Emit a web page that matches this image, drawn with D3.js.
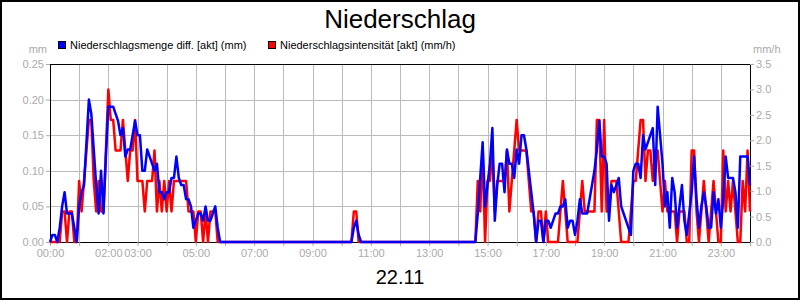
<!DOCTYPE html>
<html>
<head>
<meta charset="utf-8">
<script src="https://cdn.jsdelivr.net/npm/d3@7"></script>
<style>
  body { margin: 0; background: #fff; }
  svg { display: block; font-family: "Liberation Sans", Arial, sans-serif; }
</style>
</head>
<body>
<svg id="chart" width="800" height="300"></svg>
<script>
// time in minutes since 00:00
const mengeData = [
  [0,0],[5,0.01],[10,0.01],[15,0],[20,0.02],[25,0.05],[30,0.07],[35,0.04],[40,0.04],[45,0.04],[50,0.02],[55,0],
  [60,0.05],[65,0.07],[70,0.08],[75,0.14],[80,0.20],[85,0.18],[90,0.13],[95,0.08],[100,0.04],[105,0.10],[110,0.04],[115,0.12],
  [120,0.19],[125,0.19],[130,0.19],[135,0.18],[140,0.17],[145,0.15],[150,0.16],[155,0.12],[160,0.13],[165,0.13],[170,0.15],[175,0.17],
  [180,0.15],[185,0.15],[190,0.10],[195,0.10],[200,0.13],[205,0.12],[210,0.11],[215,0.10],[220,0.11],[225,0.07],[230,0.07],[235,0.06],
  [240,0.07],[245,0.07],[250,0.09],[255,0.09],[260,0.12],[265,0.09],[270,0.08],[275,0.08],[280,0.06],[285,0.06],[290,0.05],[295,0.02],
  [300,0.03],[305,0.04],[310,0.04],[315,0.03],[320,0.05],[325,0.03],[330,0.03],[335,0.04],[340,0.05],[345,0.02],[350,0],
  [620,0],[625,0.02],[630,0.03],[635,0.01],[640,0],
  [870,0],[875,0],[880,0.04],[885,0.09],[890,0.14],[895,0.05],[900,0.08],[905,0.11],[910,0.16],[915,0.03],[920,0.08],[925,0.11],
  [930,0.11],[935,0.07],[940,0.13],[945,0.11],[950,0.11],[955,0.09],[960,0.13],[965,0.11],[970,0.15],[975,0.15],[980,0.13],[985,0.10],
  [990,0.07],[995,0.04],[1000,0],[1005,0.03],[1010,0.03],[1015,0],[1020,0.03],[1025,0.03],[1030,0.02],[1035,0.03],[1040,0.04],[1045,0.04],
  [1050,0.05],[1055,0.05],[1060,0.06],[1065,0.02],[1070,0.03],[1075,0.03],[1080,0.01],[1085,0.03],[1090,0.06],[1095,0.04],[1100,0.04],[1105,0.04],
  [1110,0.06],[1115,0.08],[1120,0.10],[1125,0.13],[1130,0.17],[1135,0.12],[1140,0.12],[1145,0.11],[1150,0.03],[1155,0.08],[1160,0.07],[1165,0.08],
  [1170,0.09],[1175,0.05],[1180,0.04],[1185,0.03],[1190,0.02],[1195,0.01],[1200,0.10],[1205,0.11],[1210,0.11],[1215,0.09],[1220,0.15],[1225,0.13],
  [1230,0.14],[1235,0.15],[1240,0.16],[1245,0.08],[1250,0.19],[1255,0.15],[1260,0.11],[1265,0.05],[1270,0.07],[1275,0.02],[1280,0.09],[1285,0.07],
  [1290,0.02],[1295,0.05],[1300,0.08],[1305,0.03],[1310,0.01],[1315,0.04],[1320,0.07],[1325,0.12],[1330,0.06],[1335,0.02],[1340,0.05],[1345,0.07],
  [1350,0.05],[1355,0.02],[1360,0.02],[1365,0.07],[1370,0.04],[1375,0.06],[1380,0.02],[1385,0.06],[1390,0.12],[1395,0.09],[1400,0.09],[1405,0.09],
  [1410,0.07],[1415,0.02],[1420,0.12],[1425,0.12],[1430,0.12],[1435,0.12],[1440,0.08]
];

const intensData = [
  [0,0],[15,0],[20,0],[25,0.6],[30,0.6],[35,0],[40,0.6],[45,0.6],[50,0],[55,0],
  [60,1.2],[65,0.6],[70,1.2],[75,1.8],[80,2.4],[85,2.4],[90,1.2],[95,0.6],[100,1.2],[105,0.6],[110,0.6],[115,1.8],
  [120,3.0],[125,2.4],[130,2.4],[135,1.8],[140,1.8],[145,1.8],[150,2.4],[155,1.8],[160,1.2],[165,1.8],[170,1.8],[175,2.4],
  [180,1.2],[185,1.2],[190,1.2],[195,0.6],[200,1.2],[205,1.2],[210,1.2],[215,1.8],[220,0.6],[225,1.2],[230,0.6],[235,1.2],
  [240,0.6],[245,1.2],[250,0.6],[255,1.2],[260,1.2],[265,1.2],[270,1.2],[275,1.2],[280,1.2],[285,0.6],[290,0.6],[295,0.6],
  [300,0],[305,0.6],[310,0.6],[315,0],[320,0.6],[325,0],[330,0.6],[335,0.6],[340,0.6],[345,0],
  [620,0],[625,0.6],[630,0.6],[635,0],
  [875,0],[880,1.2],[885,0.6],[890,1.8],[895,0],[900,1.2],[905,1.2],[910,1.8],[915,0.6],[920,1.2],[925,1.2],[930,1.2],
  [935,1.2],[940,1.8],[945,0.6],[950,1.2],[955,1.8],[960,2.4],[965,1.8],[970,1.8],[975,1.8],[980,1.8],[985,1.2],[990,0.6],
  [995,0.6],[1000,0],[1005,0.6],[1010,0.6],[1015,0],[1020,0.6],[1025,0],[1045,0],[1050,0.6],[1055,1.2],[1060,0.6],[1065,0],
  [1085,0],[1090,0.6],[1095,1.2],[1100,0.6],[1105,0.6],[1110,0.6],[1115,0.6],[1120,0.6],[1125,2.4],[1130,2.4],[1135,0.6],[1140,2.4],
  [1145,0.6],[1150,0.6],[1155,1.2],[1160,1.2],[1165,1.2],[1170,0.6],[1175,0],[1190,0],[1195,0.6],[1200,1.2],[1205,1.2],[1210,1.8],
  [1215,2.4],[1220,2.4],[1225,1.2],[1230,1.8],[1235,1.8],[1240,1.2],[1245,1.8],[1250,1.8],[1255,1.2],[1260,0.6],[1265,1.2],[1270,0.6],
  [1275,0.6],[1280,0.6],[1285,0.6],[1290,0],[1295,0.6],[1300,0.6],[1305,0.6],[1310,0],[1315,0],[1320,1.8],[1325,1.8],[1330,0.6],
  [1335,0],[1340,0.6],[1345,1.2],[1350,0.6],[1355,0],[1360,0.6],[1365,1.2],[1370,0.6],[1375,0],[1380,0],[1385,1.8],[1390,0.6],
  [1395,1.2],[1400,0.6],[1405,1.2],[1410,0.6],[1415,0],[1420,0],[1425,1.2],[1430,0.6],[1435,1.8],[1440,0.6]
];

const hourTicks = d3.range(0, 25);
const timeLabels = ["00:00","02:00","03:00","05:00","07:00","09:00","11:00","13:00","15:00","17:00","19:00","21:00","23:00"];
const leftTicks = [0, 0.05, 0.10, 0.15, 0.20, 0.25];
const rightTicks = [0, 0.5, 1.0, 1.5, 2.0, 2.5, 3.0, 3.5];
const seriesNames = ["Niederschlagsmenge diff. [akt] (mm)", "Niederschlagsintensität [akt] (mm/h)"];
const seriesColors = ["#0000ff", "#ff0000"];

const svg = d3.select("#chart");
const W = +svg.attr("width"), H = +svg.attr("height");
const m = { left: 50, right: 50, top: 64, bottom: 58 };
const tickGrey = "#aaaaaa";

const x = d3.scaleLinear().domain([0, 1440]).range([m.left, W - m.right]);
const yL = d3.scaleLinear().domain([0, 0.25]).range([H - m.bottom, m.top]);
const yR = d3.scaleLinear().domain([0, 3.5]).range([H - m.bottom, m.top]);

// outer frame
svg.append("rect").attr("x", 1).attr("y", 1).attr("width", W - 2).attr("height", H - 2)
  .attr("fill", "#fff").attr("stroke", "#000").attr("stroke-width", 2);

// title + date
svg.append("text").attr("x", W / 2).attr("y", 28).attr("text-anchor", "middle")
  .attr("font-size", 26).text("Niederschlag");
svg.append("text").attr("x", W / 2).attr("y", 284).attr("text-anchor", "middle")
  .attr("font-size", 20).text("22.11");

// legend
const lg = svg.append("g").attr("font-size", 11);
[58, 268].forEach((lx, i) => {
  lg.append("rect").attr("x", lx + 0.5).attr("y", 41.5).attr("width", 7).attr("height", 7)
    .attr("fill", seriesColors[i]).attr("stroke", "#000");
  lg.append("text").attr("x", lx + 12).attr("y", 49).text(seriesNames[i]);
});

// units
svg.append("text").attr("x", 47).attr("y", 53).attr("text-anchor", "end")
  .attr("font-size", 11).attr("fill", tickGrey).text("mm");
svg.append("text").attr("x", 753).attr("y", 53)
  .attr("font-size", 11).attr("fill", tickGrey).text("mm/h");

// grid
const grid = svg.append("g").attr("stroke", "#bbbbbb").attr("stroke-width", 1);
hourTicks.slice(1, -1).forEach(h => {
  grid.append("line").attr("x1", Math.round(x(h * 60)) + 0.5).attr("x2", Math.round(x(h * 60)) + 0.5)
    .attr("y1", m.top).attr("y2", H - m.bottom);
});
leftTicks.slice(1, -1).forEach(v => {
  grid.append("line").attr("x1", m.left).attr("x2", W - m.right)
    .attr("y1", Math.round(yL(v)) + 0.5).attr("y2", Math.round(yL(v)) + 0.5);
});

// axes
function styleAxis(g) {
  g.selectAll(".tick line").attr("stroke", tickGrey);
  g.selectAll(".tick text").attr("fill", tickGrey).attr("font-size", 11)
    .attr("font-family", "'Liberation Sans', Arial, sans-serif");
  g.select(".domain").attr("stroke", "#000");
}

const labelSet = new Set(timeLabels);
const fmtHour = h => (h < 10 ? "0" : "") + h + ":00";
svg.append("g").attr("transform", `translate(0,${H - m.bottom})`)
  .call(d3.axisBottom(x).tickValues(hourTicks.map(h => h * 60)).tickSize(4).tickSizeOuter(0)
    .tickFormat(v => labelSet.has(fmtHour(v / 60)) ? fmtHour(v / 60) : ""))
  .call(styleAxis);

svg.append("g").attr("transform", `translate(${m.left},0)`)
  .call(d3.axisLeft(yL).tickValues(leftTicks).tickFormat(d3.format(".2f")).tickSize(4).tickSizeOuter(0).tickPadding(2))
  .call(styleAxis);

svg.append("g").attr("transform", `translate(${W - m.right},0)`)
  .call(d3.axisRight(yR).tickValues(rightTicks).tickFormat(d3.format(".1f")).tickSize(4).tickSizeOuter(0).tickPadding(2))
  .call(styleAxis);

// top frame line
svg.append("line").attr("x1", m.left).attr("x2", W - m.right)
  .attr("y1", m.top + 0.5).attr("y2", m.top + 0.5).attr("stroke", "#000");

// series
const lineR = d3.line().x(d => x(d[0])).y(d => yR(d[1]));
const lineL = d3.line().x(d => x(d[0])).y(d => yL(d[1]));

svg.append("path").datum(intensData)
  .attr("fill", "none").attr("stroke", seriesColors[1]).attr("stroke-width", 2.5)
  .attr("stroke-linejoin", "round").attr("d", lineR);

svg.append("path").datum(mengeData)
  .attr("fill", "none").attr("stroke", seriesColors[0]).attr("stroke-width", 2.5)
  .attr("stroke-linejoin", "round").attr("d", lineL);
</script>
</body>
</html>
